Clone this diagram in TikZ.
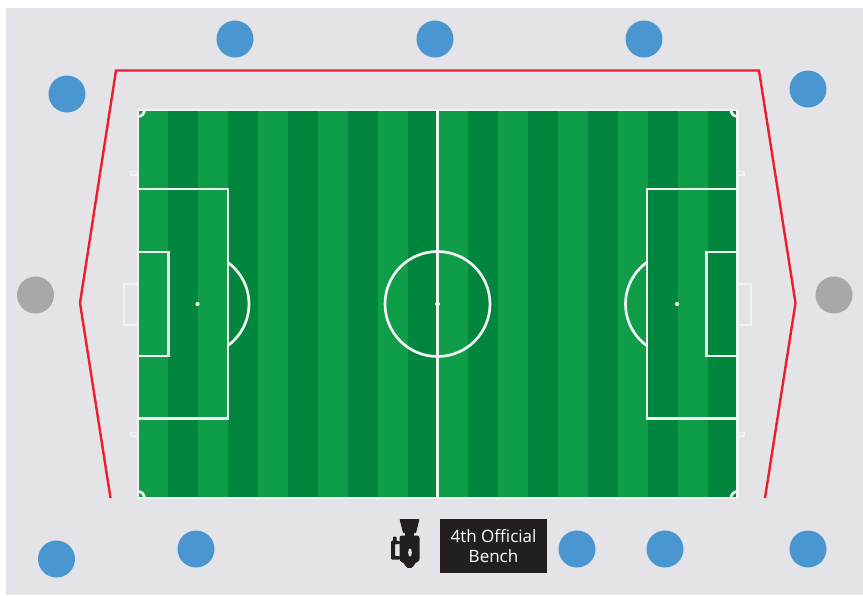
\documentclass[tikz,border=0pt]{standalone}
\usepackage{fontspec}
\setmainfont{Open Sans}
\definecolor{bgc}{HTML}{E4E3E8}
\definecolor{lightg}{HTML}{0F9D4A}
\definecolor{darkg}{HTML}{00873D}
\definecolor{linew}{HTML}{F2F2F2}
\definecolor{bluec}{HTML}{4A96D0}
\definecolor{greyc}{HTML}{A8A8AC}
\definecolor{redc}{HTML}{EE1C2E}
\definecolor{blackc}{HTML}{231F20}
\tikzset{
  player/.style={circle,minimum size=37pt,inner sep=0pt,draw=none,fill=bluec},
  referee/.style={player,fill=greyc},
  pitchline/.style={draw=linew,line width=2.7pt},
  outerline/.style={draw=linew,line width=2.7pt},
  thinline/.style={draw=linew,line width=2pt},
  tinyline/.style={draw=linew,line width=1.2pt},
  bench/.style={fill=blackc,text=white,font=\fontsize{17pt}{20.5pt}\selectfont,align=center,inner sep=0pt,minimum width=107pt,minimum height=54pt},
  boundary/.style={draw=redc,line width=2.4pt,line join=miter}
}
\begin{document}
\begin{tikzpicture}[x=1pt,y=-1pt,line width=1pt]
\useasboundingbox (0,0) rectangle (863,595);
\fill[white] (0,0) rectangle (863,595);
\fill[bgc] (6,8) rectangle (863,595);
% stripes
\foreach \i in {0,...,19}{
  \pgfmathsetmacro{\xa}{138+30*\i}
  \pgfmathsetmacro{\xb}{min(737,168+30*\i)}
  \pgfmathtruncatemacro{\odd}{mod(\i,2)}
  \ifnum\odd=0 \fill[lightg] (\xa,110) rectangle (\xb,498);
  \else \fill[darkg] (\xa,110) rectangle (\xb,498); \fi
}
% goals and small marks (behind outer line)
\draw[thinline] (138,283.5) -- (124,283.5) -- (124,324.5) -- (138,324.5);
\draw[thinline] (737,283.5) -- (751,283.5) -- (751,324.5) -- (737,324.5);
\draw[tinyline] (138,171.5) -- (131,171.5) -- (131,175) -- (138,175);
\draw[tinyline] (138,432.5) -- (131,432.5) -- (131,436) -- (138,436);
\draw[tinyline] (737,171.5) -- (744,171.5) -- (744,175) -- (737,175);
\draw[tinyline] (737,432.5) -- (744,432.5) -- (744,436) -- (737,436);
% penalty arcs
\begin{scope}
  \clip (228,240) rectangle (260,370);
  \draw[pitchline] (197.5,304) circle[radius=51.5];
\end{scope}
\begin{scope}
  \clip (615,240) rectangle (647,370);
  \draw[pitchline] (677,304) circle[radius=51.5];
\end{scope}
% boxes
\draw[pitchline] (138,189) rectangle (228,418.5);
\draw[pitchline] (138,252) rectangle (168.5,356);
\draw[pitchline] (737,189) rectangle (647,418.5);
\draw[pitchline] (737,252) rectangle (706.5,356);
% corner arcs
\begin{scope}
  \clip (138,110) rectangle (737.5,498);
  \draw[pitchline] (138,110) circle[radius=6.5];
  \draw[pitchline] (737.5,110) circle[radius=6.5];
  \draw[pitchline] (138,498) circle[radius=6.5];
  \draw[pitchline] (737.5,498) circle[radius=6.5];
\end{scope}
% halfway + centre circle
\draw[pitchline] (437.5,110) -- (437.5,498);
\draw[pitchline] (437.5,304) circle[radius=52.5];
\fill[linew] (437.5,304) circle[radius=2.4];
\fill[linew] (197.5,304) circle[radius=2.1];
\fill[linew] (677,304) circle[radius=2.1];
% outer
\draw[outerline] (138,110) rectangle (737.5,498);
% red boundary
\coordinate (ra) at (110.5,498);
\coordinate (rb) at (80,303);
\coordinate (rc) at (116,70.5);
\coordinate (rd) at (759,70.5);
\coordinate (re) at (795.5,303);
\coordinate (rf) at (765,498);
\draw[boundary] (ra) -- (rb) -- (rc) -- (rd) -- (re) -- (rf);
% players
\node[player] (p1) at (67,94) {};
\node[player] (p2) at (235,39) {};
\node[player] (p3) at (435,39) {};
\node[player] (p4) at (644,39) {};
\node[player] (p5) at (808,89) {};
\node[referee] (r1) at (35.5,295) {};
\node[referee] (r2) at (834,295) {};
\node[player] (p6) at (56.5,559) {};
\node[player] (p7) at (196,549) {};
\node[player] (p8) at (577,549) {};
\node[player] (p9) at (665,549) {};
\node[player] (p10) at (808,549) {};
% bench
\node[bench] (bench) at (493.5,546) {4th Official\\Bench};
% camera icon
\fill[blackc,rounded corners=.7pt] (399.5,519) -- (419.5,519) -- (416,533) -- (403,533) -- cycle;
\fill[blackc] (405,531) rectangle (414,538);
\fill[blackc,rounded corners=2.5pt] (399.5,535.5) -- (419.5,535.5) -- (419.5,561.5) -- (415,562.5) -- (413.5,567) -- (409.5,568.5) -- (405.5,567) -- (404,562.5) -- (399.5,561.5) -- cycle;
% handle
\fill[blackc,rounded corners=.8pt] (391,541) -- (393,541) -- (393,536.5) -- (396.5,536.5) -- (396.5,541) -- (400,541) -- (400,544) -- (395,544) -- (395,556) -- (400,556) -- (400,559.5) -- (391,559.5) -- cycle;
\fill[bgc] (410,552.5) ellipse[x radius=1.8,y radius=4];
\end{tikzpicture}
\end{document}
